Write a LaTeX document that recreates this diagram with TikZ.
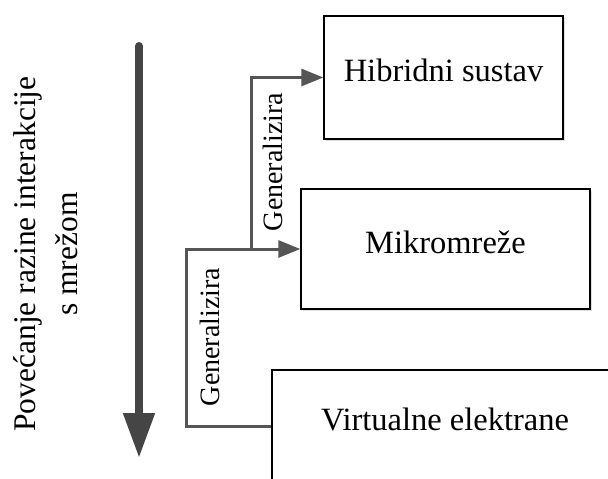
\documentclass[tikz,border=0pt]{standalone}
\usepackage{fontspec}
\setmainfont{Liberation Serif}
\usetikzlibrary{arrows.meta, shadows}
\definecolor{dg}{HTML}{454545}
\definecolor{cg}{HTML}{555555}
\tikzset{box/.style={draw=black, line width=1.4pt, fill=white, inner sep=0pt, text depth=14pt, font=\fontsize{32.5}{38}\selectfont, drop shadow={shadow xshift=1.5pt, shadow yshift=-1.5pt, opacity=.25}}}
\tikzset{conn/.style={draw=cg, line width=3pt, -{Triangle[length=22pt, width=17pt]}}}
\tikzset{gen/.style={rotate=90, font=\fontsize{28}{32}\selectfont}}
\tikzset{big/.style={draw=dg, line width=8pt, line cap=round, -{Triangle[length=45pt, width=30pt]}}}

\begin{document}
\begin{tikzpicture}[x=1pt, y=-1pt]
		\useasboundingbox (0, 0) rectangle (608, 479);
		\clip (0, 0) rectangle (608, 479);
		\node[box, minimum width=239pt, minimum height=123pt] (hib) at (443.5, 77.5) {Hibridni sustav};
		\node[box, minimum width=289pt, minimum height=120pt] (mik) at (445.5, 249) {Mikromreže};
		\node[box, minimum width=346pt, minimum height=112pt] (vel) at (445, 426) {Virtualne elektrane};
		\coordinate (a1) at (139, 46);
		\coordinate (a2) at (139, 458);
		\draw[big] (a1) -- (a2);
		\node[rotate=90, align=center, font=\fontsize{31.5}{42}\selectfont] (txt) at (46, 254) {Povećanje razine interakcije\\s mrežom};
		\draw[conn] (vel.west) -- ++(-85, 0) |- (mik.west);
		\draw[conn] (mik.west) ++(-49, 0) |- (hib.west);
		\node[gen] (g1) at (210, 337) {Generalizira};
		\node[gen] (g2) at (273, 162) {Generalizira};
	\end{tikzpicture}
\end{document}
